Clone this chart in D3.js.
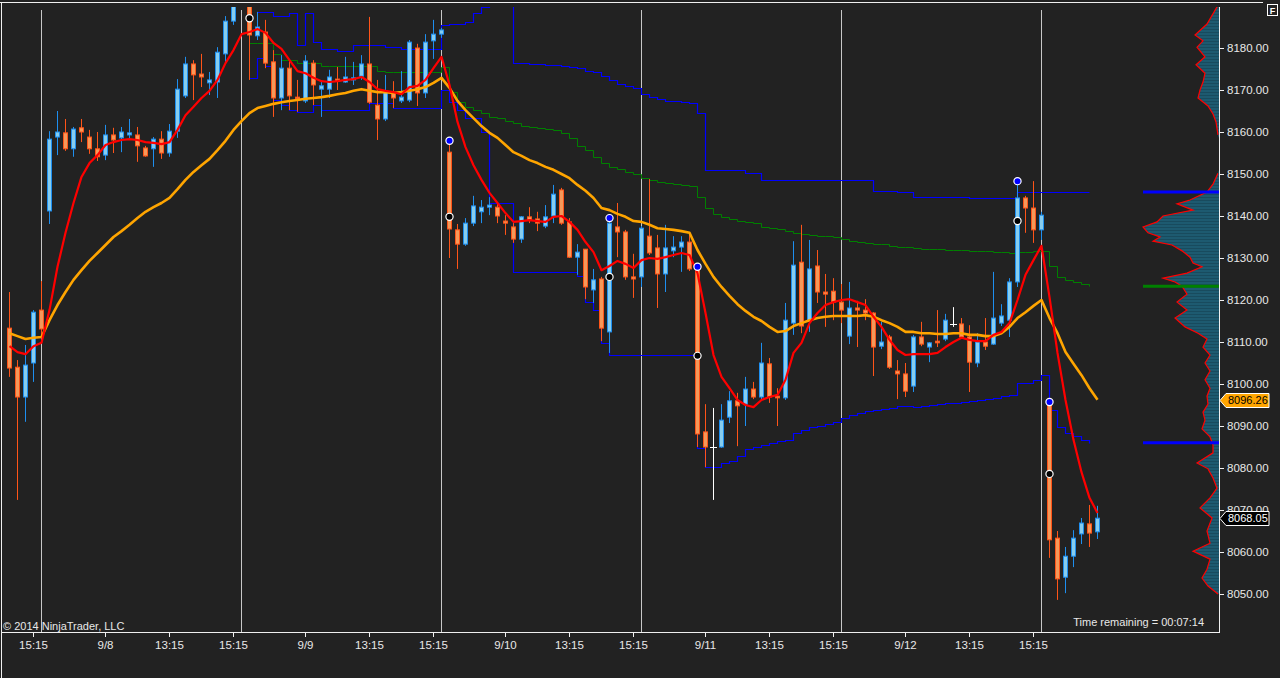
<!DOCTYPE html>
<html lang="en">
<head>
<meta charset="UTF-8">
<title>Price chart</title>
<script src="https://d3js.org/d3.v7.min.js"></script>
<style>
  html, body { margin: 0; padding: 0; background: #222222; }
  svg { display: block; }
  text { font-family: "Liberation Sans", Arial, sans-serif; }
</style>
</head>
<body>
<svg id="chart" width="1280" height="678"></svg>
<script>
// ---- bars (one per 15 min, index 0..136) ----
var open = [8113.3, 8104.0, 8096.9, 8105.0, 8117.6, 8141.2, 8158.8, 8159.8, 8156.0, 8161.0,
  8158.8, 8156.0, 8154.5, 8159.3, 8158.6, 8159.3, 8159.3, 8156.2, 8156.0, 8158.3,
  8155.0, 8160.2, 8168.6, 8176.2, 8173.8, 8171.7, 8171.9, 8178.6, 8186.4, 8191.5,
  8192.1, 8182.9, 8183.8, 8176.7, 8168.1, 8175.2, 8168.3, 8167.4, 8176.4, 8170.2,
  8170.2, 8172.6, 8171.9, 8172.4, 8173.3, 8176.2, 8166.4, 8163.1, 8169.3, 8167.4,
  8167.6, 8180.0, 8169.3, 8181.7, 8183.3, 8155.2, 8136.7, 8133.3, 8138.3, 8141.0,
  8142.1, 8142.1, 8138.8, 8137.4, 8134.5, 8139.8, 8139.3, 8137.6, 8140.0, 8146.2,
  8138.6, 8130.2, 8132.1, 8122.4, 8125.0, 8112.4, 8137.4, 8136.2, 8125.5, 8125.5,
  8135.2, 8132.4, 8126.2, 8131.7, 8132.6, 8133.8, 8127.9, 8088.6, 8085.0, 8085.0,
  8092.1, 8096.0, 8095.2, 8098.8, 8096.9, 8104.8, 8097.1, 8096.7, 8114.5, 8129.0,
  8115.0, 8128.1, 8121.9, 8122.1, 8119.5, 8111.4, 8118.1, 8117.6, 8116.9, 8109.0,
  8111.2, 8103.1, 8102.4, 8099.5, 8111.2, 8108.8, 8110.2, 8110.7, 8114.3, 8114.3,
  8111.2, 8105.0, 8110.0, 8109.5, 8114.5, 8115.2, 8124.3, 8144.3, 8141.9, 8136.7,
  8095.2, 8063.3, 8054.0, 8059.0, 8064.3, 8066.7, 8064.8];
var high = [8121.9, 8105.7, 8109.3, 8117.6, 8124.5, 8160.2, 8165.0, 8163.1, 8161.2, 8163.1,
  8160.5, 8160.0, 8161.7, 8161.0, 8161.2, 8163.1, 8161.2, 8156.7, 8158.8, 8160.2,
  8161.9, 8172.6, 8177.9, 8177.1, 8178.6, 8174.3, 8180.2, 8187.6, 8193.3, 8197.0,
  8192.6, 8188.6, 8186.7, 8179.5, 8178.3, 8177.1, 8172.4, 8178.3, 8177.1, 8171.9,
  8174.8, 8175.5, 8177.9, 8176.7, 8178.3, 8187.4, 8172.4, 8173.6, 8172.1, 8174.5,
  8181.9, 8181.0, 8183.3, 8186.7, 8184.8, 8157.4, 8138.1, 8139.5, 8144.8, 8143.8,
  8144.5, 8143.1, 8140.2, 8138.3, 8140.0, 8142.1, 8141.0, 8142.6, 8147.4, 8146.7,
  8139.5, 8133.3, 8132.1, 8127.4, 8125.5, 8139.5, 8143.1, 8136.7, 8131.0, 8137.6,
  8148.8, 8135.5, 8137.9, 8135.2, 8135.2, 8136.0, 8128.3, 8095.2, 8094.3, 8095.2,
  8098.3, 8097.9, 8101.7, 8100.5, 8109.8, 8106.2, 8099.0, 8119.3, 8134.0, 8137.9,
  8134.3, 8131.9, 8126.2, 8125.2, 8123.8, 8124.3, 8119.8, 8120.2, 8117.1, 8114.8,
  8111.7, 8105.7, 8105.0, 8111.7, 8114.8, 8110.0, 8117.6, 8116.7, 8118.3, 8115.7,
  8114.0, 8112.1, 8115.7, 8126.7, 8119.0, 8125.2, 8148.3, 8144.8, 8148.3, 8141.0,
  8095.7, 8065.0, 8061.2, 8065.2, 8068.1, 8071.2, 8071.0];
var low = [8101.7, 8072.4, 8091.0, 8100.5, 8111.7, 8138.1, 8154.5, 8155.5, 8154.1, 8157.6,
  8154.8, 8153.1, 8153.3, 8155.0, 8155.2, 8158.1, 8152.9, 8154.1, 8151.7, 8153.6,
  8154.1, 8158.6, 8168.1, 8167.6, 8170.7, 8168.8, 8168.1, 8176.7, 8185.5, 8190.5,
  8172.4, 8181.9, 8175.2, 8163.6, 8165.2, 8165.2, 8164.8, 8166.9, 8166.4, 8163.6,
  8168.1, 8170.0, 8171.7, 8171.2, 8172.4, 8166.7, 8158.1, 8162.6, 8165.7, 8166.9,
  8167.1, 8166.2, 8168.1, 8177.4, 8182.4, 8130.0, 8127.4, 8132.9, 8137.6, 8138.3,
  8140.2, 8138.3, 8135.5, 8133.6, 8133.6, 8138.3, 8136.4, 8137.1, 8138.3, 8137.9,
  8130.0, 8126.0, 8120.2, 8119.3, 8110.2, 8107.4, 8130.2, 8124.8, 8120.5, 8123.1,
  8130.7, 8118.1, 8121.9, 8130.2, 8126.7, 8126.9, 8085.0, 8080.2, 8072.4, 8084.8,
  8090.7, 8085.2, 8090.0, 8096.4, 8096.4, 8095.5, 8090.0, 8096.2, 8111.7, 8112.1,
  8112.4, 8119.3, 8113.6, 8115.2, 8114.5, 8109.5, 8108.8, 8115.2, 8101.9, 8108.3,
  8103.6, 8096.4, 8096.9, 8098.1, 8109.0, 8105.2, 8108.8, 8110.2, 8113.6, 8110.7,
  8098.1, 8104.0, 8108.1, 8109.3, 8113.8, 8111.2, 8123.1, 8136.0, 8133.6, 8134.3,
  8058.6, 8048.6, 8050.2, 8056.4, 8061.9, 8061.2, 8063.1];
var close = [8103.8, 8096.9, 8104.5, 8117.1, 8113.1, 8158.3, 8160.0, 8156.0, 8160.7, 8160.0,
  8156.0, 8154.1, 8159.3, 8158.1, 8160.0, 8159.8, 8156.7, 8154.3, 8158.3, 8155.0,
  8160.2, 8170.2, 8176.2, 8173.6, 8173.1, 8172.4, 8179.0, 8186.4, 8191.4, 8195.0,
  8183.1, 8185.0, 8176.4, 8168.1, 8175.2, 8168.6, 8167.9, 8176.9, 8171.2, 8171.0,
  8173.1, 8172.1, 8173.1, 8172.9, 8176.2, 8167.1, 8163.1, 8169.5, 8168.1, 8168.3,
  8181.4, 8169.3, 8181.4, 8183.3, 8184.3, 8136.9, 8133.3, 8138.3, 8142.4, 8142.1,
  8142.6, 8140.0, 8138.3, 8134.5, 8139.8, 8139.0, 8138.3, 8139.8, 8145.2, 8138.3,
  8130.2, 8131.4, 8123.1, 8124.8, 8113.3, 8138.3, 8136.2, 8125.5, 8125.0, 8137.1,
  8131.2, 8126.2, 8132.4, 8132.6, 8133.8, 8127.4, 8088.1, 8085.0, 8085.0, 8091.4,
  8096.0, 8094.8, 8098.8, 8096.9, 8105.0, 8096.9, 8096.7, 8115.2, 8128.3, 8113.8,
  8127.4, 8121.9, 8121.4, 8119.5, 8117.6, 8118.1, 8117.6, 8116.9, 8108.8, 8110.0,
  8104.0, 8102.4, 8098.3, 8111.2, 8109.5, 8109.8, 8109.8, 8115.2, 8114.3, 8111.2,
  8105.2, 8110.0, 8109.0, 8115.7, 8116.2, 8124.3, 8144.3, 8141.9, 8136.7, 8140.2,
  8062.9, 8053.6, 8059.0, 8063.3, 8066.9, 8064.5, 8068.05];

// ---- indicators ----
var fastMA = [8109.0, 8107.6, 8107.1, 8109.0, 8109.8, 8117.6, 8127.9, 8136.0, 8143.1, 8149.3,
  8152.6, 8154.5, 8156.9, 8157.6, 8158.1, 8158.3, 8158.1, 8157.6, 8157.4, 8157.1,
  8157.6, 8160.5, 8164.0, 8166.0, 8168.1, 8169.8, 8172.4, 8176.4, 8179.5, 8183.3,
  8183.8, 8184.5, 8183.6, 8181.2, 8179.8, 8177.1, 8174.5, 8174.0, 8172.9, 8172.1,
  8171.9, 8172.1, 8172.4, 8172.6, 8173.1, 8171.9, 8170.2, 8169.8, 8169.5, 8169.0,
  8170.7, 8171.0, 8172.4, 8175.2, 8177.9, 8171.2, 8162.4, 8156.4, 8152.1, 8148.6,
  8145.5, 8143.1, 8140.7, 8138.6, 8138.8, 8139.0, 8138.8, 8138.6, 8139.8, 8140.0,
  8138.6, 8136.7, 8133.8, 8131.4, 8127.1, 8128.1, 8129.3, 8128.6, 8127.6, 8129.5,
  8130.0, 8129.8, 8130.2, 8130.7, 8131.2, 8130.7, 8126.4, 8116.9, 8106.9, 8101.7,
  8099.0, 8096.2, 8095.0, 8094.5, 8096.2, 8096.9, 8097.4, 8101.0, 8107.4, 8109.8,
  8114.5, 8116.9, 8118.8, 8119.5, 8120.0, 8120.2, 8119.5, 8118.8, 8116.0, 8113.6,
  8110.5, 8108.1, 8106.9, 8107.1, 8107.1, 8107.1, 8107.4, 8108.8, 8110.0, 8111.0,
  8110.5, 8110.2, 8110.2, 8111.7, 8112.4, 8114.5, 8120.0, 8126.0, 8129.5, 8132.9,
  8120.7, 8107.4, 8096.2, 8086.7, 8079.0, 8072.9, 8069.3];
var slowMA = [8112.1, 8111.4, 8110.7, 8111.0, 8111.2, 8115.2, 8118.8, 8121.9, 8124.8, 8127.1,
  8129.3, 8131.2, 8133.1, 8135.0, 8136.4, 8137.9, 8139.5, 8141.0, 8142.1, 8143.1,
  8144.3, 8146.4, 8148.6, 8150.5, 8152.1, 8153.6, 8155.7, 8157.9, 8160.5, 8162.6,
  8164.5, 8165.7, 8166.2, 8166.7, 8167.1, 8167.4, 8167.6, 8167.9, 8168.1, 8168.3,
  8168.6, 8169.0, 8169.3, 8169.8, 8170.2, 8169.8, 8169.5, 8169.5, 8169.3, 8169.5,
  8169.8, 8170.2, 8170.7, 8171.7, 8172.9, 8170.5, 8167.4, 8165.2, 8163.3, 8161.4,
  8159.8, 8158.6, 8156.9, 8155.2, 8154.3, 8153.3, 8152.6, 8151.7, 8151.0, 8150.0,
  8149.0, 8147.4, 8146.0, 8144.3, 8141.9, 8141.4, 8140.5, 8139.8, 8138.8, 8138.6,
  8137.9, 8137.1, 8136.9, 8136.7, 8136.4, 8136.0, 8131.9, 8128.6, 8125.5, 8123.1,
  8121.0, 8119.0, 8117.4, 8116.0, 8115.0, 8113.6, 8112.4, 8112.6, 8113.8, 8114.5,
  8115.2, 8115.7, 8116.0, 8116.2, 8116.2, 8116.2, 8116.2, 8116.4, 8116.0, 8115.2,
  8114.5, 8113.6, 8112.4, 8112.4, 8112.1, 8112.1, 8111.9, 8111.9, 8112.1, 8112.1,
  8111.7, 8111.7, 8111.4, 8111.4, 8112.1, 8113.6, 8115.7, 8117.1, 8118.6, 8120.0,
  8115.7, 8112.1, 8107.6, 8104.8, 8102.1, 8099.0, 8096.26];
// green stepped line, starts at bar 30
var greenLine = Array(30).fill(null).concat([
  8181.2, 8181.2, 8181.2, 8178.6, 8177.1, 8177.1, 8176.4, 8176.4, 8176.4, 8175.7,
  8175.7, 8175.7, 8175.7, 8175.7, 8175.7, 8175.7, 8174.5, 8174.3, 8174.3, 8174.3,
  8174.3, 8174.3, 8174.3, 8174.3, 8175.5, 8169.5, 8167.1, 8166.0, 8165.2, 8164.5,
  8163.6, 8163.3, 8162.6, 8162.1, 8161.4, 8161.2, 8161.0, 8160.7, 8160.5, 8159.8,
  8158.6, 8156.7, 8155.7, 8154.1, 8152.6, 8151.7, 8151.2, 8150.5, 8150.0, 8149.0,
  8148.6, 8148.1, 8147.9, 8147.6, 8147.4, 8147.1, 8144.5, 8141.9, 8140.5, 8139.8,
  8139.3, 8138.8, 8138.6, 8138.3, 8137.4, 8137.1, 8136.9, 8136.4, 8136.0, 8135.7,
  8135.5, 8135.2, 8135.2, 8135.0, 8134.5, 8134.0, 8133.8, 8133.6, 8133.3, 8133.3,
  8132.9, 8132.6, 8132.6, 8132.4, 8132.1, 8132.1, 8132.1, 8131.9, 8131.9, 8131.9,
  8131.7, 8131.7, 8131.7, 8131.4, 8131.4, 8131.2, 8131.4, 8131.4, 8131.7, 8131.7,
  8128.1, 8125.5, 8124.8, 8124.3, 8123.8, 8123.3, null]);
// blue channel, upper from bar 31, lower from bar 30
var upperBand = Array(31).fill(null).concat([
  8188.6, 8188.6, 8187.6, 8187.6, 8188.3, 8180.7, 8188.3, 8181.4, 8179.8, 8179.8,
  8179.3, 8179.3, 8180.7, 8180.7, 8180.7, 8180.7, 8180.2, 8180.2, 8179.8, 8179.8,
  8179.8, 8179.8, 8179.8, 8185.5, 8185.7, 8185.7, 8186.2, 8188.3, 8189.8, 8193.8,
  8193.8, 8193.8, 8176.4, 8176.4, 8176.2, 8176.2, 8176.0, 8176.0, 8175.7, 8175.5,
  8175.2, 8174.5, 8174.3, 8173.3, 8172.4, 8171.4, 8171.0, 8170.5, 8169.0, 8168.3,
  8167.9, 8167.4, 8167.4, 8167.1, 8166.9, 8164.5, 8151.0, 8151.0, 8151.0, 8151.0,
  8151.0, 8150.2, 8150.2, 8148.6, 8148.6, 8148.6, 8148.6, 8148.6, 8148.6, 8148.6,
  8148.6, 8148.6, 8148.6, 8148.6, 8148.6, 8148.6, 8148.6, 8146.0, 8146.0, 8146.0,
  8145.7, 8145.7, 8144.5, 8144.5, 8144.5, 8144.5, 8144.5, 8144.5, 8144.5, 8144.3,
  8144.3, 8144.3, 8144.3, 8144.3, 8144.3, 8145.7, 8145.7, 8145.7, 8145.7, 8145.7,
  8145.7, 8145.7, 8145.7, 8145.7, 8145.7, null]);
var lowerBand = Array(30).fill(null).concat([
  8172.9, 8177.6, 8175.7, 8167.6, 8166.4, 8165.2, 8164.8, 8164.8, 8166.4, 8165.2,
  8165.2, 8165.2, 8165.2, 8165.2, 8165.2, 8166.9, 8166.9, 8166.9, 8165.7, 8165.7,
  8165.7, 8165.7, 8165.7, 8165.7, 8170.0, 8167.1, 8165.2, 8163.3, 8163.3, 8160.0,
  8143.1, 8143.1, 8143.1, 8126.7, 8126.7, 8126.7, 8126.7, 8126.7, 8126.7, 8126.7,
  8126.7, 8125.7, 8119.5, 8117.6, 8109.8, 8106.9, 8106.9, 8106.9, 8106.9, 8106.9,
  8106.9, 8106.9, 8106.9, 8106.9, 8106.9, 8106.9, 8084.8, 8080.2, 8080.2, 8081.2,
  8081.7, 8082.9, 8084.5, 8085.0, 8085.5, 8086.0, 8086.4, 8086.7, 8088.3, 8089.0,
  8089.8, 8090.0, 8090.5, 8090.9, 8091.9, 8092.6, 8093.1, 8093.6, 8093.8, 8094.0,
  8094.3, 8094.8, 8094.8, 8094.5, 8094.8, 8095.0, 8095.2, 8095.5, 8095.5, 8095.7,
  8096.0, 8096.2, 8096.4, 8096.7, 8097.1, 8097.4, 8100.2, 8100.2, 8101.0, 8102.1,
  8093.8, 8089.8, 8088.3, 8087.6, 8086.7, 8086.0, null]);

// swing markers
var swingBlackIdx = [30, 55, 75, 86, 126, 130];
var swingBlackPrice = [8187.1, 8139.8, 8125.5, 8106.7, 8138.8, 8078.6];
var swingBlueIdx = [55, 75, 86, 126, 130];
var swingBluePrice = [8157.9, 8139.5, 8127.9, 8148.3, 8095.7];

// session breaks and time axis
var sessionIdx = [4, 29, 54, 79, 104, 129];
var tickIdx = [3, 12, 20, 28, 37, 45, 53, 62, 70, 78, 87, 95, 103, 112, 120, 128];
var tickLabel = ["15:15", "9/8", "13:15", "15:15", "9/9", "13:15", "15:15", "9/10", "13:15",
  "15:15", "9/11", "13:15", "15:15", "9/12", "13:15", "15:15"];
var priceTicks = d3.range(8050, 8181, 10);

// volume profile (price, relative volume)
var profilePrice = [8189.8, 8185.7, 8183.1, 8181.7, 8180.2, 8177.9, 8176.0, 8174.0, 8171.9, 8170.0,
  8168.1, 8166.2, 8164.3, 8162.4, 8159.3, 8158.5, 8151.0, 8150.2, 8147.6, 8145.7,
  8143.8, 8142.9, 8141.4, 8140.0, 8138.6, 8137.4, 8136.0, 8135.0, 8134.0, 8133.1,
  8131.7, 8130.2, 8128.8, 8127.9, 8126.4, 8125.2, 8124.3, 8123.3, 8121.4, 8119.5,
  8117.6, 8115.7, 8113.6, 8112.1, 8110.7, 8108.8, 8106.9, 8105.0, 8103.1, 8101.0,
  8099.0, 8097.1, 8095.2, 8093.3, 8091.4, 8089.3, 8087.4, 8085.5, 8083.6, 8081.2,
  8079.8, 8077.6, 8075.2, 8072.9, 8070.5, 8068.1, 8065.0, 8062.1, 8060.2, 8058.3,
  8055.9, 8053.8, 8051.9, 8050.0];
var profileVol = [2, 12, 24, 16, 22, 14, 23, 14, 16, 19,
  21, 11, 6, 3, 1, 0, 0, 1, 6, 12,
  29, 42, 26, 56, 62, 76, 71, 59, 66, 47,
  37, 29, 26, 17, 32, 56, 44, 37, 32, 42,
  32, 44, 34, 21, 12, 16, 9, 14, 9, 14,
  9, 12, 11, 16, 14, 17, 9, 6, 6, 22,
  11, 6, 2, 9, 19, 7, 12, 9, 26, 9,
  12, 17, 11, 1];

var lastPrice = 8068.05;
var slowLast = 8096.26;

// ---- drawing ----
var svg = d3.select("#chart");
var x = d3.scaleLinear().domain([0, 136]).range([9, 1097]);
var y = d3.scaleLinear().domain([8050, 8180]).range([594, 48]);
var vx = d3.scaleLinear().domain([0, 76]).range([1219, 1143]);

svg.append("rect").attr("width", 1280).attr("height", 678).attr("fill", "#222222");

var defs = svg.append("defs");
defs.append("clipPath").attr("id", "plotClip")
  .append("rect").attr("x", 2).attr("y", 7).attr("width", 1217).attr("height", 625);
var pat = defs.append("pattern").attr("id", "profileFill")
  .attr("patternUnits", "userSpaceOnUse").attr("width", 4).attr("height", 3);
pat.append("rect").attr("width", 4).attr("height", 3).attr("fill", "#1d5a70");
pat.append("rect").attr("y", 2).attr("width", 4).attr("height", 1).attr("fill", "#184b5e");

var plot = svg.append("g").attr("clip-path", "url(#plotClip)");

// session separators
plot.append("g").selectAll("line").data(sessionIdx).join("line")
  .attr("x1", function(d) { return x(d) + 0.5; })
  .attr("x2", function(d) { return x(d) + 0.5; })
  .attr("y1", 10).attr("y2", 632)
  .attr("stroke", "#c8c8c8").attr("stroke-width", 1);

// volume profile
var prof = profilePrice.map(function(p, i) { return {p: p, v: profileVol[i]}; });
plot.append("path").datum(prof)
  .attr("fill", "url(#profileFill)")
  .attr("d", d3.area().y(function(d) { return y(d.p); }).x0(vx(0)).x1(function(d) { return vx(d.v); }));
plot.append("path").datum(prof)
  .attr("fill", "none").attr("stroke", "#ff0000").attr("stroke-width", 1.2)
  .attr("d", d3.line().defined(function(d) { return d.v > 0; })
    .y(function(d) { return y(d.p); }).x(function(d) { return vx(d.v); }));

// current level bars inside the profile
var levels = [
  {p: upperBand[135], c: "#0000ff"},
  {p: greenLine[135], c: "#008000"},
  {p: lowerBand[135], c: "#0000ff"}
];
plot.append("g").selectAll("line").data(levels).join("line")
  .attr("x1", 1143).attr("x2", 1219)
  .attr("y1", function(d) { return y(d.p); }).attr("y2", function(d) { return y(d.p); })
  .attr("stroke", function(d) { return d.c; }).attr("stroke-width", 3);

function stepLine(arr) {
  return d3.line().defined(function(d) { return d != null; })
    .x(function(d, i) { return x(i) + 0.5; })
    .y(function(d) { return Math.round(y(d)) + 0.5; })
    .curve(d3.curveStepAfter)(arr);
}
plot.append("path").attr("d", stepLine(greenLine))
  .attr("fill", "none").attr("stroke", "#008000").attr("stroke-width", 1);
plot.append("path").attr("d", stepLine(upperBand))
  .attr("fill", "none").attr("stroke", "#0000ff").attr("stroke-width", 1.2);
plot.append("path").attr("d", stepLine(lowerBand))
  .attr("fill", "none").attr("stroke", "#0000ff").attr("stroke-width", 1.2);

// candles
var bars = d3.range(open.length);
var upFill = "#87cdee", upLine = "#1e8ff0", dnFill = "#f4995a", dnLine = "#ff5418";
var cg = plot.append("g").selectAll("g").data(bars).join("g");
cg.append("line")
  .attr("x1", function(i) { return x(i) + 0.5; })
  .attr("x2", function(i) { return x(i) + 0.5; })
  .attr("y1", function(i) { return y(high[i]); })
  .attr("y2", function(i) { return y(low[i]); })
  .attr("stroke", function(i) {
    if (open[i] === close[i]) return "#ffffff";
    return close[i] > open[i] ? upLine : dnLine;
  })
  .attr("stroke-width", 1);
cg.filter(function(i) { return open[i] !== close[i]; }).append("rect")
  .attr("x", function(i) { return x(i) - 1.5; })
  .attr("width", 4)
  .attr("y", function(i) { return y(Math.max(open[i], close[i])); })
  .attr("height", function(i) { return Math.max(1, Math.abs(y(open[i]) - y(close[i]))); })
  .attr("fill", function(i) { return close[i] > open[i] ? upFill : dnFill; })
  .attr("stroke", function(i) { return close[i] > open[i] ? upLine : dnLine; })
  .attr("stroke-width", 1);
cg.filter(function(i) { return open[i] === close[i]; }).append("line")
  .attr("x1", function(i) { return x(i) - 3; })
  .attr("x2", function(i) { return x(i) + 4; })
  .attr("y1", function(i) { return Math.round(y(open[i])) + 0.5; })
  .attr("y2", function(i) { return Math.round(y(open[i])) + 0.5; })
  .attr("stroke", "#ffffff").attr("stroke-width", 1);

// moving averages
var maLine = d3.line().x(function(d, i) { return x(i) + 0.5; }).y(function(d) { return y(d); });
plot.append("path").attr("d", maLine(slowMA))
  .attr("fill", "none").attr("stroke", "#ffa500").attr("stroke-width", 2.6)
  .attr("stroke-linejoin", "round");
plot.append("path").attr("d", maLine(fastMA))
  .attr("fill", "none").attr("stroke", "#ff0000").attr("stroke-width", 2.2)
  .attr("stroke-linejoin", "round");

// swing dots
var dots = swingBlueIdx.map(function(d, i) { return {i: d, p: swingBluePrice[i], c: "#0000ff"}; })
  .concat(swingBlackIdx.map(function(d, i) { return {i: d, p: swingBlackPrice[i], c: "#000000"}; }));
plot.append("g").selectAll("circle").data(dots).join("circle")
  .attr("cx", function(d) { return x(d.i) + 0.5; })
  .attr("cy", function(d) { return y(d.p); })
  .attr("r", 3.6)
  .attr("fill", function(d) { return d.c; })
  .attr("stroke", "#ffffff").attr("stroke-width", 1.2);

// frame
svg.append("line").attr("x1", 0).attr("x2", 1263).attr("y1", 2.5).attr("y2", 2.5)
  .attr("stroke", "#f0f0f0").attr("stroke-width", 1);
svg.append("line").attr("x1", 1.5).attr("x2", 1.5).attr("y1", 2).attr("y2", 678)
  .attr("stroke", "#f0f0f0").attr("stroke-width", 1);
svg.append("line").attr("x1", 1).attr("x2", 1220).attr("y1", 632.5).attr("y2", 632.5)
  .attr("stroke", "#f0f0f0").attr("stroke-width", 1);
svg.append("line").attr("x1", 1219.5).attr("x2", 1219.5).attr("y1", 7).attr("y2", 633)
  .attr("stroke", "#f0f0f0").attr("stroke-width", 1);

// axes
var yAxis = svg.append("g").attr("transform", "translate(1219,0)")
  .call(d3.axisRight(y).tickValues(priceTicks).tickFormat(d3.format(".2f")).tickSize(5).tickPadding(3));
var xAxis = svg.append("g").attr("transform", "translate(0,632)")
  .call(d3.axisBottom(x).tickValues(tickIdx)
    .tickFormat(function(d, i) { return tickLabel[i]; }).tickSize(5).tickPadding(4));
[yAxis, xAxis].forEach(function(a) {
  a.select(".domain").remove();
  a.selectAll(".tick line").attr("stroke", "#f0f0f0");
  a.selectAll(".tick text").attr("fill", "#e8e8e8")
    .style("font-family", '"Liberation Sans", Arial, sans-serif').style("font-size", "11.5px");
});

// price markers on the axis
function marker(price, fill, textFill) {
  var yc = Math.round(y(price)) + 0.5;
  svg.append("path")
    .attr("d", "M1220," + yc + "L1226," + (yc - 7) + "H1269V" + (yc + 7) + "H1226Z")
    .attr("fill", fill).attr("stroke", "#ffffff").attr("stroke-width", 1);
  svg.append("text").attr("x", 1228).attr("y", yc).attr("dy", "0.36em")
    .attr("fill", textFill).style("font-size", "11px").text(d3.format(".2f")(price));
}
marker(slowLast, "#ffa500", "#000000");
marker(lastPrice, "#000000", "#ffffff");

// F box
svg.append("rect").attr("x", 1267.5).attr("y", 4.5).attr("width", 10).attr("height", 11)
  .attr("fill", "#222222").attr("stroke", "#ffffff").attr("stroke-width", 1);
svg.append("text").attr("x", 1272.5).attr("y", 13.5).attr("text-anchor", "middle")
  .attr("fill", "#ffffff").style("font-size", "9px").style("font-weight", "bold").text("F");

// footer texts
svg.append("text").attr("x", 3).attr("y", 630).attr("fill", "#e8e8e8")
  .style("font-size", "11px").text("\u00a9 2014 NinjaTrader, LLC");
svg.append("text").attr("x", 1204).attr("y", 626).attr("text-anchor", "end").attr("fill", "#e8e8e8")
  .style("font-size", "11px").text("Time remaining = 00:07:14");
</script>
</body>
</html>
